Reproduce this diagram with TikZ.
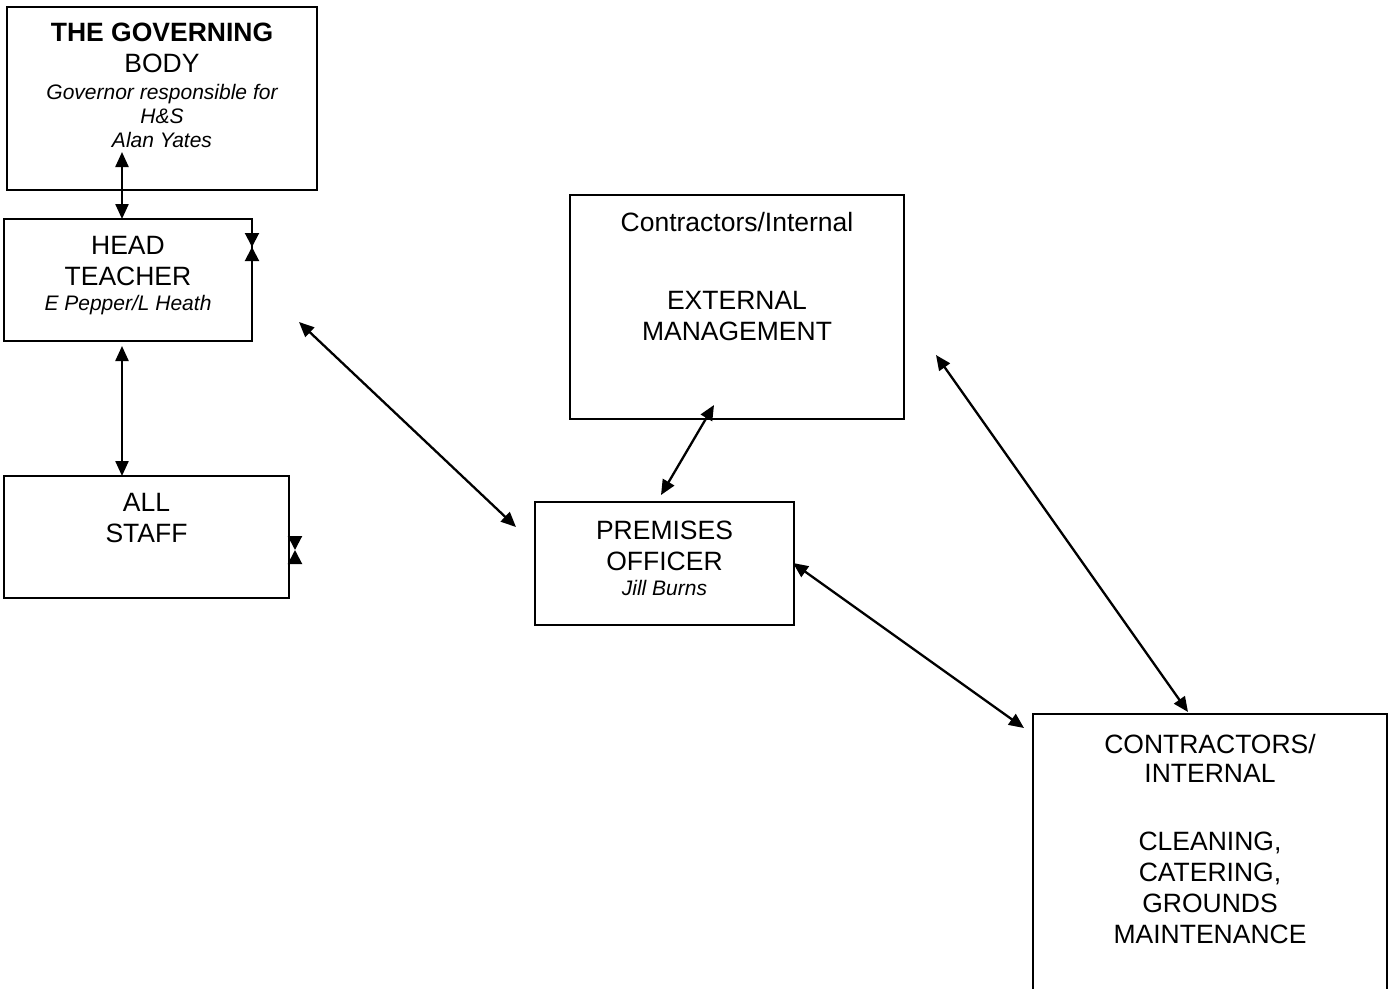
\documentclass[tikz,border=0pt]{standalone}
\usepackage{fontspec}
\setmainfont{Liberation Sans}
\usetikzlibrary{arrows.meta}
\begin{document}
\begin{tikzpicture}[x=1pt,y=-1pt,
  box/.style={draw,line width=1.8pt,inner sep=0pt,anchor=center},
  txt/.style={align=center,anchor=north,inner sep=0pt,font=\fontsize{26.5}{31}\selectfont},
  biarrow/.style={line width=2.3pt,{Triangle[length=15pt,width=13pt]}-{Triangle[length=15pt,width=13pt]}},
  tip/.style={line width=2pt,-{Triangle[length=14pt,width=14pt]}}]
\useasboundingbox (0,0) rectangle (1396,988);
\newcommand{\itl}[1]{{\fontsize{21}{24}\selectfont\itshape #1}}
% boxes
\node[box,minimum width=310pt,minimum height=183pt] (gov) at (162,98.5) {};
\node[box,minimum width=248pt,minimum height=122pt] (head) at (128,280) {};
\node[box,minimum width=285pt,minimum height=122pt] (all) at (146.5,537) {};
\node[box,minimum width=334pt,minimum height=224pt] (ext) at (737,307) {};
\node[box,minimum width=259pt,minimum height=123pt] (prem) at (664.5,563.5) {};
\node[box,minimum width=354pt,minimum height=300pt] (cont) at (1210,864) {};
% texts
\node[txt] (govt) at (162,23) {\textbf{THE GOVERNING}\\BODY\\[-4pt]\itl{Governor responsible for}\\[-7pt]\itl{H\&S}\\[-7pt]\itl{Alan Yates}};
\node[txt] (headt) at (128,236.5) {HEAD\\TEACHER\\[-6pt]\itl{E Pepper/L Heath}};
\node[txt] (allt) at (146.5,493.5) {ALL\\STAFF};
\node[txt] (extt) at (737,212) {Contractors/Internal\\[47pt]EXTERNAL\\MANAGEMENT};
\node[txt] (premt) at (664.5,520.5) {PREMISES\\OFFICER\\[-6pt]\itl{Jill Burns}};
\node[txt] (contt) at (1210,734.5) {CONTRACTORS/\\[-2pt]INTERNAL\\[37pt]CLEANING,\\CATERING,\\GROUNDS\\MAINTENANCE};
% connector end points
\coordinate (g1) at (122,152);
\coordinate (h1) at (122,219);
\coordinate (h2) at (122,346);
\coordinate (s1) at (122,476);
\coordinate (h3) at (299,322);
\coordinate (p1) at (516,527);
\coordinate (e1) at (714,405);
\coordinate (p2) at (661,495);
\coordinate (p3) at (793,563);
\coordinate (c1) at (1024,728);
\coordinate (e2) at (936,355);
\coordinate (c2) at (1188,712);
\coordinate (hx1) at (252,233);
\coordinate (hx2) at (252,261);
\coordinate (hxm) at (252,247);
\coordinate (sx1) at (295,537);
\coordinate (sx2) at (295,563);
\coordinate (sxm) at (295,550);
% connectors
\draw[biarrow] (g1) -- (h1);
\draw[biarrow] (h2) -- (s1);
\draw[biarrow] (h3) -- (p1);
\draw[biarrow] (e1) -- (p2);
\draw[biarrow] (p3) -- (c1);
\draw[biarrow] (e2) -- (c2);
\draw[tip] (hx1) -- (hxm);
\draw[tip] (hx2) -- (hxm);
\draw[tip] (sx1) -- (sxm);
\draw[tip] (sx2) -- (sxm);
\end{tikzpicture}
\end{document}
